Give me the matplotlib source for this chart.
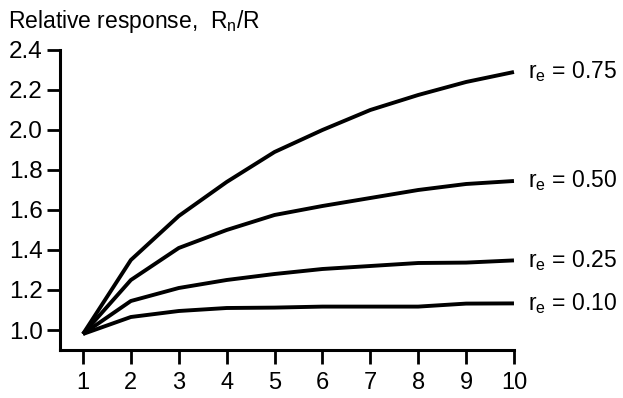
import matplotlib
matplotlib.use('Agg')
import matplotlib.pyplot as plt

plt.rcParams['font.family'] = ['Liberation Sans', 'DejaVu Sans']
plt.rcParams['mathtext.fontset'] = 'custom'
plt.rcParams['mathtext.rm'] = 'Liberation Sans'
plt.rcParams['mathtext.it'] = 'Liberation Sans'

n = [1, 2, 3, 4, 5, 6, 7, 8, 9, 10]
r_075 = [0.98, 1.35, 1.57, 1.74, 1.89, 2.00, 2.10, 2.175, 2.24, 2.29]
r_050 = [0.98, 1.25, 1.41, 1.50, 1.575, 1.62, 1.66, 1.70, 1.73, 1.745]
r_025 = [0.98, 1.145, 1.21, 1.25, 1.28, 1.305, 1.32, 1.335, 1.337, 1.348]
r_010 = [0.98, 1.065, 1.095, 1.11, 1.112, 1.117, 1.117, 1.117, 1.132, 1.133]
labels = ['0.75', '0.50', '0.25', '0.10']
series = [r_075, r_050, r_025, r_010]
yticks = [1.0, 1.2, 1.4, 1.6, 1.8, 2.0, 2.2, 2.4]

fig = plt.figure(figsize=(6.23, 3.98), dpi=100)
ax = fig.add_axes([0.0963, 0.1206, 0.7287, 0.7538])

for vals, lab in zip(series, labels):
    ax.plot(n, vals, color='black', linewidth=2.8, solid_capstyle='butt',
            solid_joinstyle='round', clip_on=False)
    ax.text(10.3, vals[-1], r'$\mathregular{r_e}$ = ' + lab, fontsize=16.5,
            va='center', ha='left')

ax.set_xlim(0.52, 10)
ax.set_ylim(0.9, 2.4)
ax.set_xticks(n)
ax.set_yticks(yticks)
ax.set_yticklabels(['%.1f' % v for v in yticks])

for s in ['top', 'right']:
    ax.spines[s].set_visible(False)
for s in ['left', 'bottom']:
    ax.spines[s].set_linewidth(2.2)
ax.tick_params(axis='y', direction='out', length=9.5, width=2.0, pad=3,
               labelsize=17.5)
ax.tick_params(axis='x', direction='out', length=10, width=2.0, pad=6,
               labelsize=17)

fig.text(0.013, 0.945, r'Relative response,  $\mathregular{R_n}$/R',
         fontsize=16.5, va='center', ha='left')

fig.savefig('out.png', dpi=100)
